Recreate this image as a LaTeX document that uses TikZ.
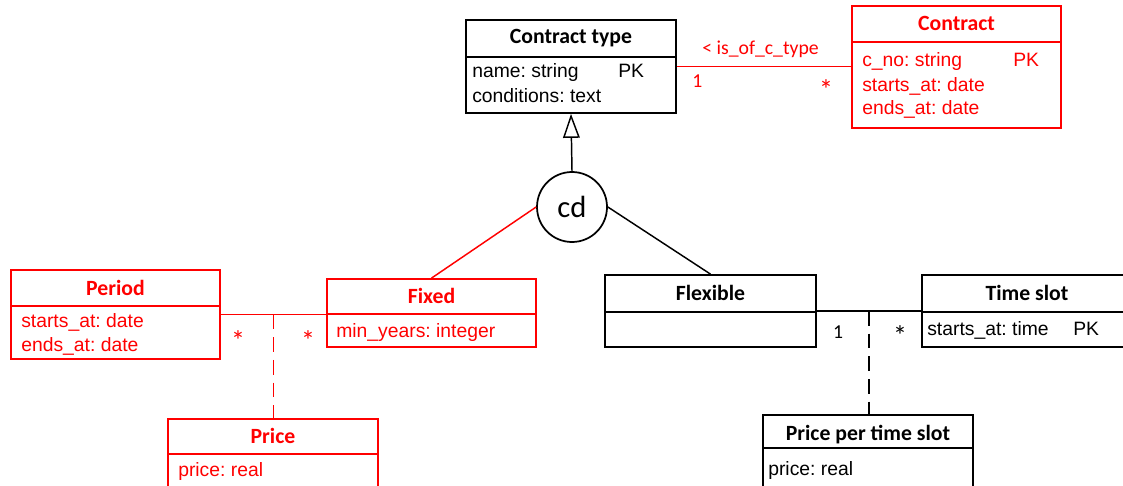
\documentclass[tikz,border=0pt]{standalone}
\usepackage{fontspec}
\setmainfont{Liberation Sans}
\newfontfamily\calibri{Carlito}
\usetikzlibrary{fit,calc,arrows.meta}
\frenchspacing
\begin{document}
\frenchspacing
\begin{tikzpicture}[x=0.75pt,y=-0.75pt,
  box/.style={draw, line width=1.3pt, inner sep=0pt},
  redbox/.style={box, draw=red},
  title/.style={font=\calibri\bfseries\fontsize{16.3pt}{18pt}\selectfont, anchor=base, inner sep=0pt},
  attr/.style={font=\frenchspacing\fontsize{14.5pt}{17pt}\selectfont, anchor=base west, inner sep=0pt},
  lbl/.style={font=\calibri\fontsize{14.8pt}{17pt}\selectfont, inner sep=0pt},
  star/.style={font=\calibri\fontsize{21pt}{24pt}\selectfont, inner sep=0pt},
  conn/.style={line width=1.1pt},
  dashconn/.style={line width=1.1pt, dash pattern=on 11pt off 6pt},
  divider/.style={line width=1.3pt}
]
\useasboundingbox (0,0) rectangle (1123,485);
\clip (0,0) rectangle (1123,485);

% Contract type
\node[box, fit={(466,20) (676,113)}] (ct) {};
\draw[divider] (ct.west |- 0,57) -- (ct.east |- 0,57);
\node[title] (ctt) at (571,44) {Contract type};
\node[attr] (cta1) at (472,78) {name: string};
\node[attr] (cta1pk) at (618,78) {PK};
\node[attr] (cta2) at (472,102) {conditions: text};

% Contract
\node[redbox, fit={(852,6) (1061,128)}] (con) {};
\draw[divider, red] (con.west |- 0,42) -- (con.east |- 0,42);
\node[title, text=red] (cont) at (956.5,31) {Contract};
\node[attr, text=red] (cona1) at (862,67) {c\_no: string};
\node[attr, text=red] (cona1pk) at (1013,67) {PK};
\node[attr, text=red] (cona2) at (862,91) {starts\_at: date};
\node[attr, text=red] (cona3) at (862,114) {ends\_at: date};

% association Contract type - Contract
\draw[conn, red] (ct.east) -- (ct.east -| con.west);
\node[lbl, text=red, anchor=base west] (asslbl) at (702,55) {< is\_of\_c\_type};
\node[lbl, text=red, anchor=base west] (m1) at (692,87) {1};
\node[star, text=red] (m2) at (826,90) {*};

% circle cd
\node[circle, draw, line width=1.3pt, minimum size=52.5pt, inner sep=0pt,
      font=\calibri\fontsize{23pt}{26pt}\selectfont] (cd) at (572,207) {cd};
\draw[conn, -{Triangle[open, length=18pt, width=12.5pt, line width=1.1pt]}] (cd.north) -- (ct.south);

% Period
\node[redbox, fit={(11,270) (220,359)}] (period) {};
\draw[divider, red] (period.west |- 0,306) -- (period.east |- 0,306);
\node[title, text=red] (periodt) at (115.5,295) {Period};
\node[attr, text=red] (perioda1) at (21,327) {starts\_at: date};
\node[attr, text=red] (perioda2) at (21,351) {ends\_at: date};

% Fixed
\node[redbox, fit={(327,279) (536,347)}] (fixed) {};
\draw[divider, red] (fixed.west |- 0,314) -- (fixed.east |- 0,314);
\node[title, text=red] (fixedt) at (431.5,303) {Fixed};
\node[attr, text=red] (fixeda1) at (336,337) {min\_years: integer};

% Price
\node[redbox, fit={(168,419) (378,500)}] (price) {};
\draw[divider, red] (price.west |- 0,454) -- (price.east |- 0,454);
\node[title, text=red] (pricet) at (273,443) {Price};
\node[attr, text=red] (pricea1) at (178,476) {price: real};

% Flexible
\node[box, fit={(605,275) (816,347)}] (flex) {};
\draw[divider] (flex.west |- 0,312) -- (flex.east |- 0,312);
\node[title] (flext) at (710.5,300) {Flexible};

% Time slot
\node[box, fit={(922,275) (1140,347)}] (ts) {};
\draw[divider] (ts.west |- 0,312) -- (ts.east |- 0,312);
\node[title] (tst) at (1027,300) {Time slot};
\node[attr] (tsa1) at (927,335) {starts\_at: time};
\node[attr] (tsa1pk) at (1073,335) {PK};

% Price per time slot
\node[box, fit={(763,415) (973,500)}] (ppts) {};
\draw[divider] (ppts.west |- 0,448) -- (ppts.east |- 0,448);
\node[title] (pptst) at (868,440) {Price per time slot};
\node[attr] (pptsa1) at (768,475) {price: real};

% generalization branches
\draw[conn, red] (cd.west) -- (fixed.north);
\draw[conn] (cd.east) -- (flex.north);

% association Period - Fixed with association class Price
\draw[conn, red] (period.east) -- (period.east -| fixed.west);
\coordinate (pf) at ($(period.east)!0.5!(period.east -| fixed.west)$);
\draw[dashconn, red] (pf) -- (pf |- price.north);
\node[star, text=red] (pm1) at (238,341) {*};
\node[star, text=red] (pm2) at (308,341) {*};

% association Flexible - Time slot with association class
\draw[conn] (flex.east) -- (flex.east -| ts.west);
\coordinate (ft) at ($(flex.east)!0.5!(flex.east -| ts.west)$);
\draw[dashconn] (ft) -- (ft |- ppts.north);
\node[lbl] (fm1) at (838,332) {1};
\node[star] (fm2) at (900,336) {*};
\end{tikzpicture}
\end{document}
